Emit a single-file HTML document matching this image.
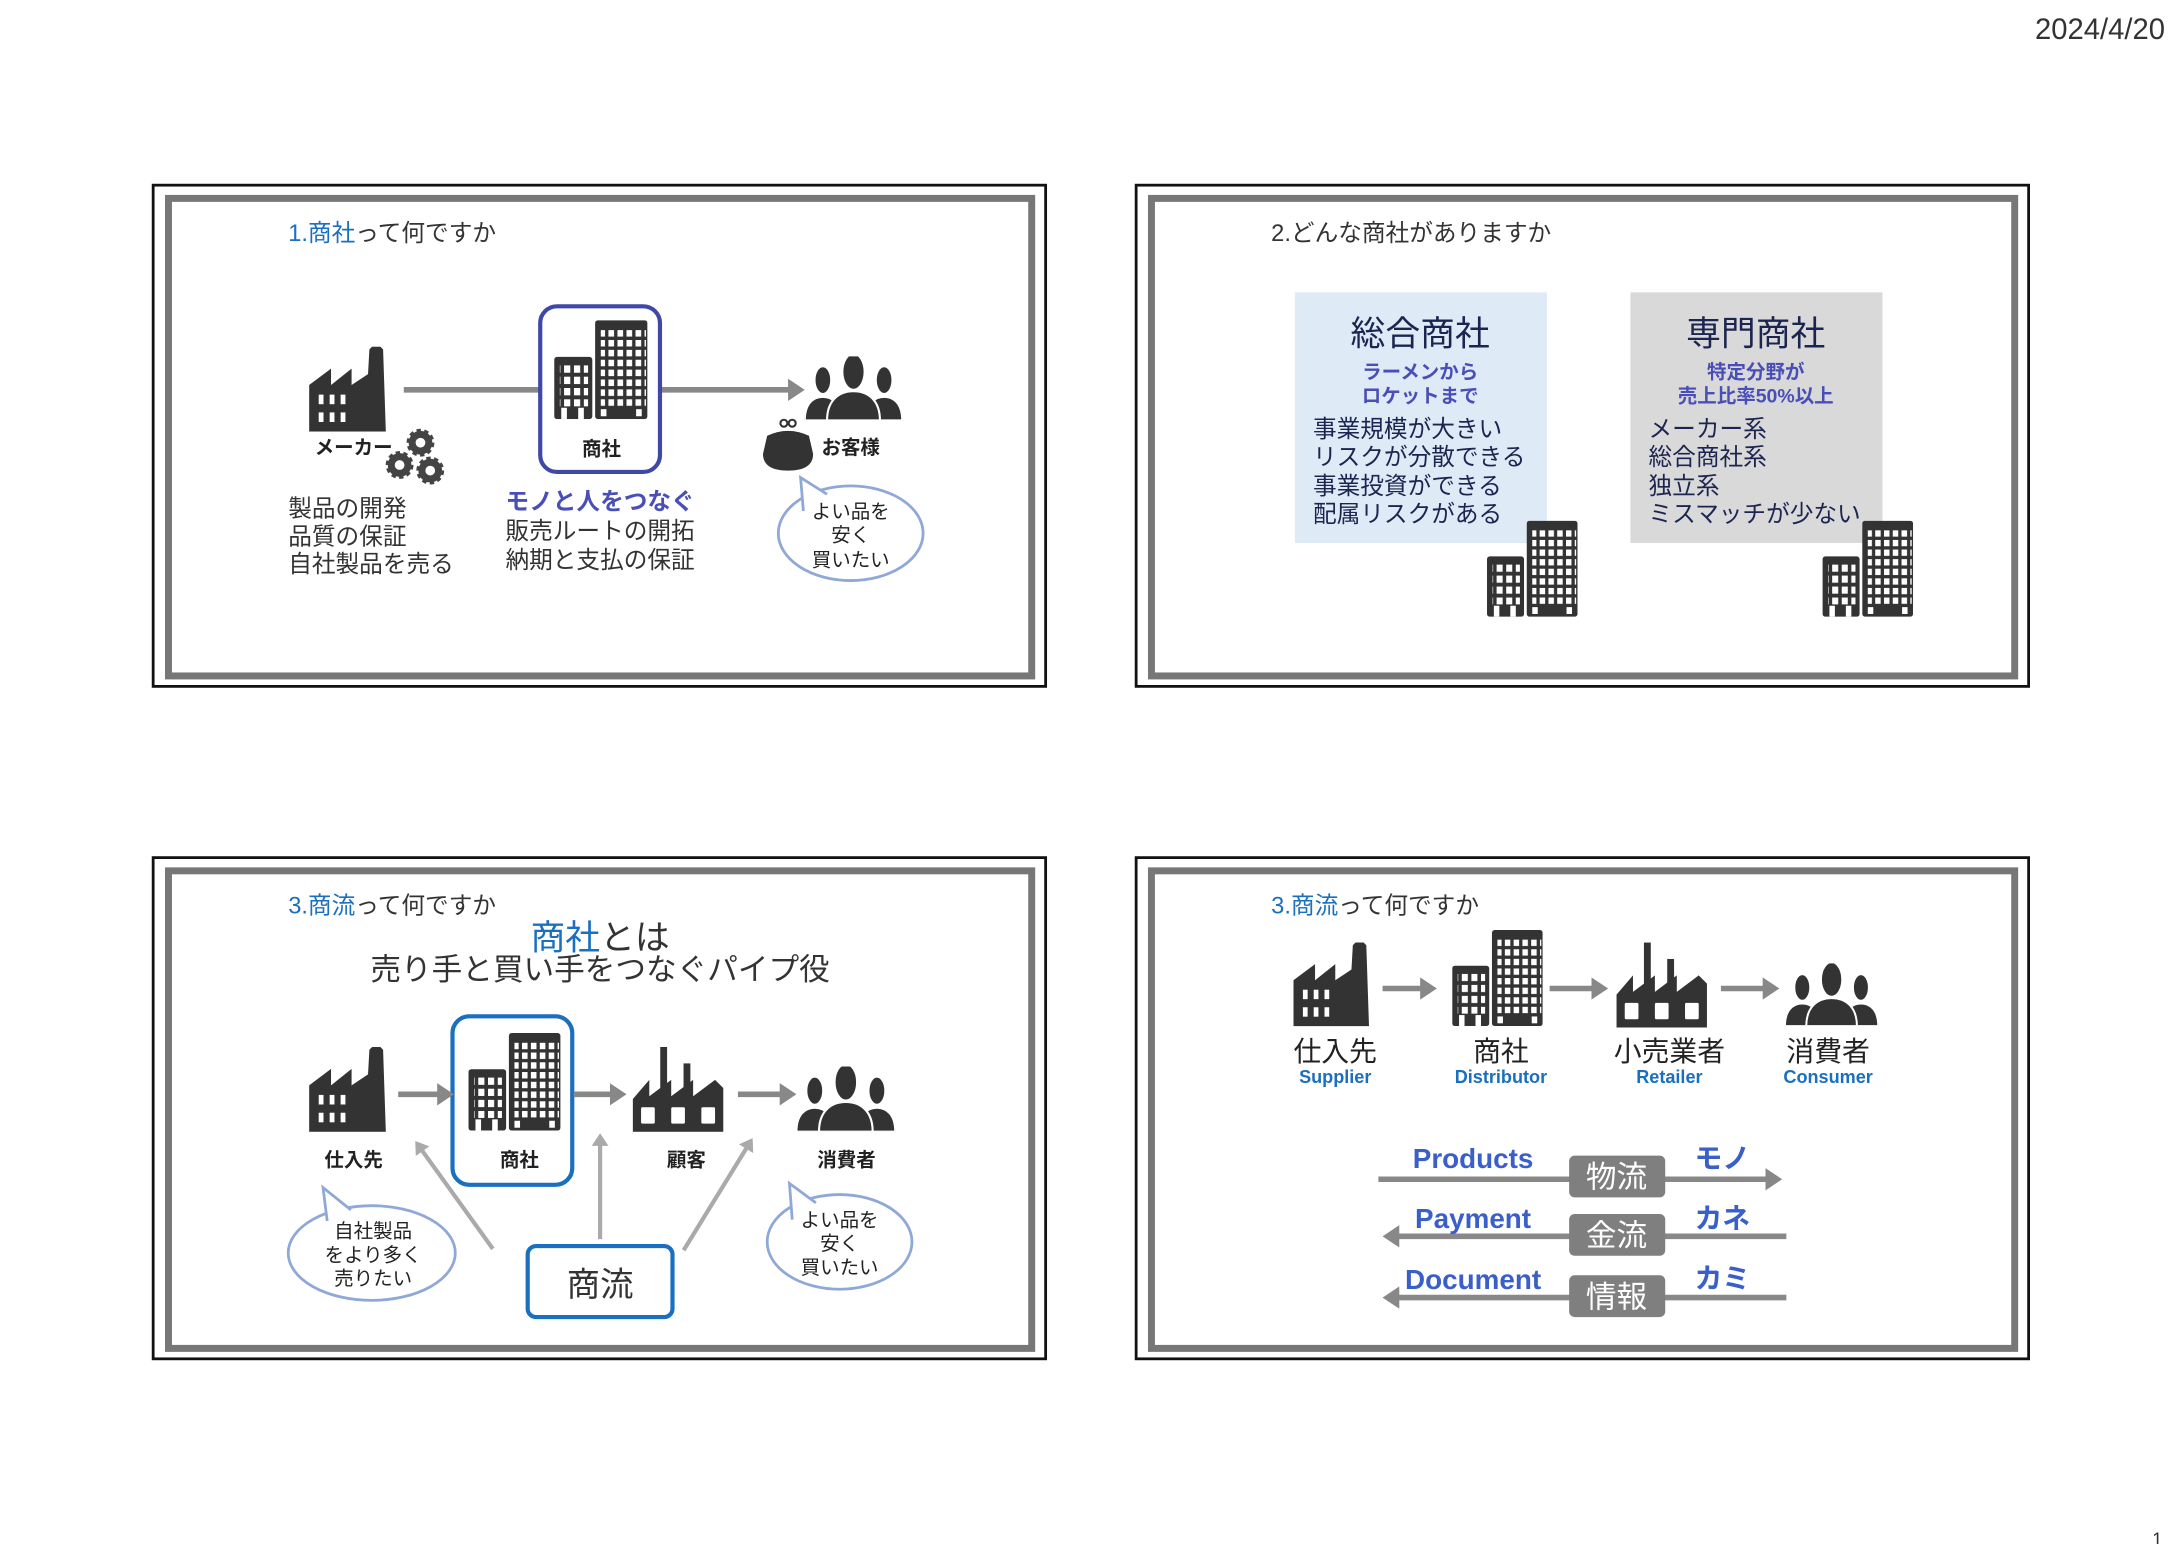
<!DOCTYPE html>
<html><head><meta charset="utf-8"><style>
html,body{margin:0;padding:0;background:#fff}
svg{display:block}
text{font-family:"Liberation Sans","Noto Sans CJK JP",sans-serif}
</style></head><body>
<svg width="2184" height="1544" viewBox="0 0 1568.6 1109" preserveAspectRatio="none" xmlns="http://www.w3.org/2000/svg">
<defs>
<pattern id="w1" width="7" height="8" patternUnits="userSpaceOnUse"><rect x="0" y="0" width="4.4" height="5.2" fill="#fff"/></pattern>
<pattern id="w2" width="6.4" height="7" patternUnits="userSpaceOnUse"><rect x="0" y="0" width="4" height="4.6" fill="#fff"/></pattern>
<symbol id="bld" viewBox="0 0 66 70">
<rect x="0" y="26" width="27" height="44" rx="2" fill="#333"/>
<rect x="4" y="31" width="20" height="30" fill="url(#w1)"/>
<rect x="5" y="62" width="4" height="8" fill="#fff"/><rect x="17" y="62" width="4" height="8" fill="#fff"/>
<rect x="29" y="0" width="37" height="70" rx="2" fill="#333"/>
<rect x="33" y="5" width="32" height="56" fill="url(#w2)"/>
<rect x="33" y="63" width="4" height="5" fill="#fff"/><rect x="58" y="63" width="4" height="5" fill="#fff"/>
</symbol>
<symbol id="fac" viewBox="0 0 64 62">
<polygon points="0,62 0,28 16,16 16,28 31,16 31,28 43,20 44,2 46,0 52,0 54,2 56,62" fill="#333"/>
<g fill="#fff"><rect x="7" y="35" width="3.5" height="7"/><rect x="15" y="35" width="3.5" height="7"/><rect x="23" y="35" width="3.5" height="7"/>
<rect x="7" y="48" width="3.5" height="7"/><rect x="15" y="48" width="3.5" height="7"/><rect x="23" y="48" width="3.5" height="7"/></g>
</symbol>
<symbol id="ret" viewBox="0 0 66 62">
<rect x="20" y="0" width="5" height="30" fill="#333"/><rect x="37" y="12" width="5" height="20" fill="#333"/>
<polygon points="0,62 0,38 12,24 12,36 28,24 28,36 44,24 44,36 60,24 66,30 66,62" fill="#333"/>
<g fill="#fff"><rect x="6" y="44" width="10" height="12" rx="1"/><rect x="28" y="44" width="10" height="12" rx="1"/><rect x="50" y="44" width="10" height="12" rx="1"/></g>
</symbol>
<symbol id="ppl" viewBox="0 0 70 46">
<g fill="#333" stroke="#fff" stroke-width="1.5">
<ellipse cx="13" cy="17" rx="6" ry="10"/><path d="M0,46 C0,34 6,29 13,29 C20,29 26,34 26,46Z"/>
<ellipse cx="57" cy="17" rx="6" ry="10"/><path d="M44,46 C44,34 50,29 57,29 C64,29 70,34 70,46Z"/>
<ellipse cx="35" cy="11" rx="8" ry="13"/><path d="M16,46 C16,32 24,25 35,25 C46,25 54,32 54,46Z"/>
</g></symbol>
<marker id="ah" markerWidth="4" markerHeight="4" refX="2" refY="2" orient="auto" markerUnits="strokeWidth"><path d="M0,0 L3,2 L0,4Z" fill="#888"/></marker>
<marker id="al" markerWidth="4" markerHeight="4" refX="2" refY="2" orient="auto" markerUnits="strokeWidth"><path d="M0,0 L3,2 L0,4Z" fill="#aaa"/></marker>
</defs>

<text x="1555" y="28" font-size="21" text-anchor="end" fill="#333">2024/4/20</text>
<text x="1553" y="1110" font-size="13" text-anchor="end" fill="#333">1</text>

<g fill="none">
<rect x="110" y="133" width="641" height="360" stroke="#111" stroke-width="2"/>
<rect x="121" y="142.5" width="620" height="343" stroke="#777" stroke-width="5"/>
<rect x="816" y="133" width="641" height="360" stroke="#111" stroke-width="2"/>
<rect x="827" y="142.5" width="620" height="343" stroke="#777" stroke-width="5"/>
<rect x="110" y="616" width="641" height="360" stroke="#111" stroke-width="2"/>
<rect x="121" y="625.5" width="620" height="343" stroke="#777" stroke-width="5"/>
<rect x="816" y="616" width="641" height="360" stroke="#111" stroke-width="2"/>
<rect x="827" y="625.5" width="620" height="343" stroke="#777" stroke-width="5"/>
</g>

<!-- Slide 1 -->
<text x="207" y="173" font-size="17" fill="#333"><tspan fill="#1a6fc0">1.商社</tspan>って何ですか</text>
<use href="#fac" x="222" y="249" width="63" height="61"/>
<line x1="290" y1="280" x2="388" y2="280" stroke="#888" stroke-width="4"/>
<line x1="474" y1="280" x2="574" y2="280" stroke="#888" stroke-width="4" marker-end="url(#ah)"/>
<rect x="388" y="220" width="86" height="119" rx="12" fill="none" stroke="#3f47a8" stroke-width="3"/>
<use href="#bld" x="398" y="230" width="67" height="71"/>
<text x="432" y="327" font-size="14" font-weight="bold" text-anchor="middle" fill="#222">商社</text>
<use href="#ppl" x="578" y="256" width="70" height="46"/>
<text x="226" y="326" font-size="14" font-weight="bold" fill="#222">メーカー</text>
<g fill="none" stroke="#444">
<circle cx="302" cy="318" r="6" stroke-width="5"/><circle cx="302" cy="318" r="8.5" stroke-width="3" stroke-dasharray="3 2.3"/>
<circle cx="287" cy="334" r="6" stroke-width="5"/><circle cx="287" cy="334" r="8.5" stroke-width="3" stroke-dasharray="3 2.3"/>
<circle cx="309" cy="338" r="6" stroke-width="5"/><circle cx="309" cy="338" r="8.5" stroke-width="3" stroke-dasharray="3 2.3"/>
</g>
<path d="M551,313 Q566,306 581,313 L584,326 Q584,338 566,338 Q548,338 548,326Z" fill="#333"/>
<circle cx="563" cy="304" r="2.5" fill="none" stroke="#333" stroke-width="1.5"/><circle cx="569" cy="304" r="2.5" fill="none" stroke="#333" stroke-width="1.5"/>
<text x="590" y="326" font-size="14" font-weight="bold" fill="#222">お客様</text>
<g font-size="17" fill="#333">
<text x="207" y="371">製品の開発</text><text x="207" y="391">品質の保証</text><text x="207" y="411">自社製品を売る</text>
</g>
<text x="431" y="366" font-size="17" font-weight="bold" text-anchor="middle" fill="#4a4fb8">モノと人をつなぐ</text>
<text x="431" y="387" font-size="17" text-anchor="middle" fill="#333">販売ルートの開拓</text>
<text x="431" y="408" font-size="17" text-anchor="middle" fill="#333">納期と支払の保証</text>
<ellipse cx="611" cy="383" rx="52" ry="34" fill="#fff" stroke="#8fa8d8" stroke-width="2"/>
<path d="M577,367 L575,343 L594,355" fill="#fff" stroke="#8fa8d8" stroke-width="2"/>
<g font-size="14" text-anchor="middle" fill="#222"><text x="611" y="372">よい品を</text><text x="611" y="389">安く</text><text x="611" y="407">買いたい</text></g>

<!-- Slide 2 -->
<text x="913" y="173" font-size="17" fill="#333">2.どんな商社がありますか</text>
<rect x="930" y="210" width="181" height="180" fill="#deeaf6"/>
<rect x="1171" y="210" width="181" height="180" fill="#d9d9d9"/>
<text x="1020" y="248" font-size="25" text-anchor="middle" fill="#1c2550">総合商社</text>
<text x="1020" y="272" font-size="14" font-weight="bold" text-anchor="middle" fill="#4a4fb8">ラーメンから</text>
<text x="1020" y="289" font-size="14" font-weight="bold" text-anchor="middle" fill="#4a4fb8">ロケットまで</text>
<g font-size="17" fill="#1c2550"><text x="943" y="314">事業規模が大きい</text><text x="943" y="334">リスクが分散できる</text><text x="943" y="355">事業投資ができる</text><text x="943" y="375">配属リスクがある</text></g>
<text x="1261" y="248" font-size="25" text-anchor="middle" fill="#1c2550">専門商社</text>
<text x="1261" y="272" font-size="14" font-weight="bold" text-anchor="middle" fill="#4a4fb8">特定分野が</text>
<text x="1261" y="289" font-size="14" font-weight="bold" text-anchor="middle" fill="#4a4fb8">売上比率50%以上</text>
<g font-size="17" fill="#1c2550"><text x="1184" y="314">メーカー系</text><text x="1184" y="334">総合商社系</text><text x="1184" y="355">独立系</text><text x="1184" y="375">ミスマッチが少ない</text></g>
<use href="#bld" x="1068" y="374" width="65" height="69"/>
<use href="#bld" x="1309" y="374" width="65" height="69"/>

<!-- Slide 3 -->
<text x="207" y="656" font-size="17" fill="#333"><tspan fill="#1a6fc0">3.商流</tspan>って何ですか</text>
<text x="431" y="682" font-size="25" text-anchor="middle" fill="#333"><tspan fill="#1a6fc0">商社</tspan>とは</text>
<text x="431" y="704" font-size="22" text-anchor="middle" fill="#333">売り手と買い手をつなぐパイプ役</text>
<use href="#fac" x="222" y="752" width="63" height="61"/>
<rect x="325" y="730" width="86" height="121" rx="12" fill="none" stroke="#1a6fc0" stroke-width="3"/>
<use href="#bld" x="336" y="742" width="67" height="70"/>
<use href="#ret" x="454" y="752" width="66" height="61"/>
<use href="#ppl" x="572" y="766" width="71" height="47"/>
<g stroke="#888" stroke-width="4">
<line x1="286" y1="786" x2="322" y2="786" marker-end="url(#ah)"/>
<line x1="412" y1="786" x2="446" y2="786" marker-end="url(#ah)"/>
<line x1="530" y1="786" x2="568" y2="786" marker-end="url(#ah)"/>
</g>
<g font-size="14" font-weight="bold" text-anchor="middle" fill="#222">
<text x="254" y="838">仕入先</text><text x="373" y="838">商社</text><text x="493" y="838">顧客</text><text x="608" y="838">消費者</text></g>
<g stroke="#aaa" stroke-width="3">
<line x1="354" y1="897" x2="300" y2="822" marker-end="url(#al)"/>
<line x1="431" y1="890" x2="431" y2="817" marker-end="url(#al)"/>
<line x1="491" y1="898" x2="539" y2="820" marker-end="url(#al)"/>
</g>
<rect x="379" y="895" width="104" height="51" rx="6" fill="#fff" stroke="#1a6fc0" stroke-width="3"/>
<text x="431" y="931" font-size="24" text-anchor="middle" fill="#333">商流</text>
<ellipse cx="267" cy="900" rx="60" ry="34" fill="#fff" stroke="#8fa8d8" stroke-width="2"/>
<path d="M235,877 L232,853 L252,869" fill="#fff" stroke="#8fa8d8" stroke-width="2"/>
<g font-size="14" text-anchor="middle" fill="#222"><text x="268" y="889">自社製品</text><text x="268" y="906">をより多く</text><text x="268" y="923">売りたい</text></g>
<ellipse cx="603" cy="892" rx="52" ry="34" fill="#fff" stroke="#8fa8d8" stroke-width="2"/>
<path d="M569,876 L567,850 L586,864" fill="#fff" stroke="#8fa8d8" stroke-width="2"/>
<g font-size="14" text-anchor="middle" fill="#222"><text x="603" y="881">よい品を</text><text x="603" y="898">安く</text><text x="603" y="915">買いたい</text></g>

<!-- Slide 4 -->
<text x="913" y="656" font-size="17" fill="#333"><tspan fill="#1a6fc0">3.商流</tspan>って何ですか</text>
<use href="#fac" x="929" y="676" width="62" height="62"/>
<use href="#bld" x="1043" y="667" width="65" height="71"/>
<use href="#ret" x="1160" y="677" width="67" height="61"/>
<use href="#ppl" x="1282" y="692" width="67" height="46"/>
<g stroke="#888" stroke-width="4">
<line x1="993" y1="710" x2="1028" y2="710" marker-end="url(#ah)"/>
<line x1="1113" y1="710" x2="1151" y2="710" marker-end="url(#ah)"/>
<line x1="1236" y1="710" x2="1274" y2="710" marker-end="url(#ah)"/>
</g>
<g font-size="20" text-anchor="middle" fill="#222">
<text x="959" y="762">仕入先</text><text x="1078" y="762">商社</text><text x="1199" y="762">小売業者</text><text x="1313" y="762">消費者</text></g>
<g font-size="13" font-weight="bold" text-anchor="middle" fill="#1a6fc0">
<text x="959" y="778">Supplier</text><text x="1078" y="778">Distributor</text><text x="1199" y="778">Retailer</text><text x="1313" y="778">Consumer</text></g>
<g stroke="#888" stroke-width="4">
<line x1="990" y1="847" x2="1276" y2="847" marker-end="url(#ah)"/>
<line x1="1283" y1="888" x2="997" y2="888" marker-end="url(#ah)"/>
<line x1="1283" y1="932" x2="997" y2="932" marker-end="url(#ah)"/>
</g>
<g fill="#7f7f7f"><rect x="1127" y="830" width="69" height="30" rx="4"/><rect x="1127" y="872" width="69" height="30" rx="4"/><rect x="1127" y="916" width="69" height="30" rx="4"/></g>
<g font-size="22" text-anchor="middle" fill="#fff"><text x="1161" y="853">物流</text><text x="1161" y="895">金流</text><text x="1161" y="939">情報</text></g>
<g font-size="20" font-weight="bold" text-anchor="middle" fill="#3a5fc8">
<text x="1058" y="839">Products</text><text x="1058" y="882">Payment</text><text x="1058" y="926">Document</text>
<text x="1237" y="839">モノ</text><text x="1237" y="882">カネ</text><text x="1237" y="925">カミ</text></g>
</svg>
</body></html>
